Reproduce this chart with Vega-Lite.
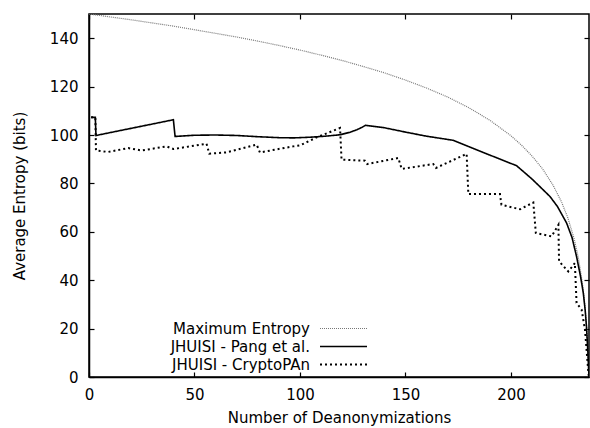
{
  "$schema": "https://vega.github.io/schema/vega-lite/v6.json",
  "width": 500,
  "height": 363,
  "autosize": {"type": "none"},
  "padding": {"left": 89, "top": 14, "right": 1, "bottom": 51},
  "background": "white",
  "config": {
    "font": "DejaVu Sans",
    "view": {"stroke": "black", "strokeWidth": 1.5},
    "axis": {
      "grid": false,
      "domainColor": "black",
      "domainWidth": 1.5,
      "tickColor": "black",
      "tickWidth": 1.2,
      "tickSize": -5,
      "labelFont": "DejaVu Sans",
      "labelFontSize": 15,
      "labelColor": "black",
      "titleFont": "DejaVu Sans",
      "titleFontSize": 15,
      "titleFontWeight": "normal",
      "titleColor": "black",
      "labelFlush": false
    }
  },
  "datasets": {
    "lines": [
      {"series": "Maximum Entropy", "x": 0, "y": 150.0},
      {"series": "Maximum Entropy", "x": 10, "y": 148.8},
      {"series": "Maximum Entropy", "x": 20, "y": 147.6},
      {"series": "Maximum Entropy", "x": 30, "y": 146.3},
      {"series": "Maximum Entropy", "x": 40, "y": 145.0},
      {"series": "Maximum Entropy", "x": 50, "y": 143.5},
      {"series": "Maximum Entropy", "x": 60, "y": 142.0},
      {"series": "Maximum Entropy", "x": 70, "y": 140.5},
      {"series": "Maximum Entropy", "x": 80, "y": 138.8},
      {"series": "Maximum Entropy", "x": 90, "y": 137.0},
      {"series": "Maximum Entropy", "x": 100, "y": 135.1},
      {"series": "Maximum Entropy", "x": 110, "y": 133.0},
      {"series": "Maximum Entropy", "x": 120, "y": 130.8},
      {"series": "Maximum Entropy", "x": 130, "y": 128.3},
      {"series": "Maximum Entropy", "x": 140, "y": 125.7},
      {"series": "Maximum Entropy", "x": 150, "y": 122.7},
      {"series": "Maximum Entropy", "x": 160, "y": 119.4},
      {"series": "Maximum Entropy", "x": 170, "y": 115.7},
      {"series": "Maximum Entropy", "x": 180, "y": 111.3},
      {"series": "Maximum Entropy", "x": 190, "y": 106.1},
      {"series": "Maximum Entropy", "x": 200, "y": 99.7},
      {"series": "Maximum Entropy", "x": 205, "y": 95.8},
      {"series": "Maximum Entropy", "x": 210, "y": 91.3},
      {"series": "Maximum Entropy", "x": 215, "y": 86.0},
      {"series": "Maximum Entropy", "x": 220, "y": 79.2},
      {"series": "Maximum Entropy", "x": 224, "y": 72.3},
      {"series": "Maximum Entropy", "x": 227, "y": 65.7},
      {"series": "Maximum Entropy", "x": 230, "y": 57.0},
      {"series": "Maximum Entropy", "x": 232, "y": 49.1},
      {"series": "Maximum Entropy", "x": 234, "y": 38.0},
      {"series": "Maximum Entropy", "x": 235, "y": 30.1},
      {"series": "Maximum Entropy", "x": 236, "y": 19.0},
      {"series": "Maximum Entropy", "x": 237, "y": 0},

      {"series": "JHUISI - Pang et al.", "x": 1, "y": 107.3},
      {"series": "JHUISI - Pang et al.", "x": 3, "y": 107.3},
      {"series": "JHUISI - Pang et al.", "x": 3.3, "y": 99.8},
      {"series": "JHUISI - Pang et al.", "x": 40, "y": 106.3},
      {"series": "JHUISI - Pang et al.", "x": 40.8, "y": 99.4},
      {"series": "JHUISI - Pang et al.", "x": 50, "y": 99.9},
      {"series": "JHUISI - Pang et al.", "x": 60, "y": 100.0},
      {"series": "JHUISI - Pang et al.", "x": 70, "y": 99.8},
      {"series": "JHUISI - Pang et al.", "x": 80, "y": 99.3},
      {"series": "JHUISI - Pang et al.", "x": 90, "y": 98.9},
      {"series": "JHUISI - Pang et al.", "x": 97, "y": 98.8},
      {"series": "JHUISI - Pang et al.", "x": 105, "y": 99.1},
      {"series": "JHUISI - Pang et al.", "x": 112, "y": 99.5},
      {"series": "JHUISI - Pang et al.", "x": 119, "y": 100.1},
      {"series": "JHUISI - Pang et al.", "x": 124, "y": 101.2},
      {"series": "JHUISI - Pang et al.", "x": 127, "y": 102.2},
      {"series": "JHUISI - Pang et al.", "x": 129.5, "y": 103.2},
      {"series": "JHUISI - Pang et al.", "x": 131, "y": 104.0},
      {"series": "JHUISI - Pang et al.", "x": 140, "y": 103.0},
      {"series": "JHUISI - Pang et al.", "x": 150, "y": 101.2},
      {"series": "JHUISI - Pang et al.", "x": 160, "y": 99.5},
      {"series": "JHUISI - Pang et al.", "x": 172.7, "y": 97.8},
      {"series": "JHUISI - Pang et al.", "x": 180, "y": 95.2},
      {"series": "JHUISI - Pang et al.", "x": 190, "y": 91.7},
      {"series": "JHUISI - Pang et al.", "x": 202.7, "y": 87.3},
      {"series": "JHUISI - Pang et al.", "x": 210, "y": 81.8},
      {"series": "JHUISI - Pang et al.", "x": 218.5, "y": 74.6},
      {"series": "JHUISI - Pang et al.", "x": 222, "y": 70.5},
      {"series": "JHUISI - Pang et al.", "x": 226.4, "y": 63.6},
      {"series": "JHUISI - Pang et al.", "x": 229, "y": 57.5},
      {"series": "JHUISI - Pang et al.", "x": 231.1, "y": 49.8},
      {"series": "JHUISI - Pang et al.", "x": 233, "y": 41.5},
      {"series": "JHUISI - Pang et al.", "x": 234.3, "y": 34.7},
      {"series": "JHUISI - Pang et al.", "x": 235.2, "y": 27.5},
      {"series": "JHUISI - Pang et al.", "x": 235.8, "y": 20.9},
      {"series": "JHUISI - Pang et al.", "x": 236.5, "y": 10.0},
      {"series": "JHUISI - Pang et al.", "x": 237, "y": 0},

      {"series": "JHUISI - CryptoPAn", "x": 1, "y": 107.3},
      {"series": "JHUISI - CryptoPAn", "x": 3, "y": 107.3},
      {"series": "JHUISI - CryptoPAn", "x": 3.3, "y": 93.6},
      {"series": "JHUISI - CryptoPAn", "x": 9.1, "y": 93.0},
      {"series": "JHUISI - CryptoPAn", "x": 18.6, "y": 94.6},
      {"series": "JHUISI - CryptoPAn", "x": 25, "y": 93.6},
      {"series": "JHUISI - CryptoPAn", "x": 36.8, "y": 95.3},
      {"series": "JHUISI - CryptoPAn", "x": 40, "y": 94.2},
      {"series": "JHUISI - CryptoPAn", "x": 55.7, "y": 96.4},
      {"series": "JHUISI - CryptoPAn", "x": 57, "y": 92.3},
      {"series": "JHUISI - CryptoPAn", "x": 65.2, "y": 92.8},
      {"series": "JHUISI - CryptoPAn", "x": 79.5, "y": 96.0},
      {"series": "JHUISI - CryptoPAn", "x": 81, "y": 92.8},
      {"series": "JHUISI - CryptoPAn", "x": 96.8, "y": 95.3},
      {"series": "JHUISI - CryptoPAn", "x": 100, "y": 95.7},
      {"series": "JHUISI - CryptoPAn", "x": 107.9, "y": 99.0},
      {"series": "JHUISI - CryptoPAn", "x": 119, "y": 102.9},
      {"series": "JHUISI - CryptoPAn", "x": 119.7, "y": 89.8},
      {"series": "JHUISI - CryptoPAn", "x": 130.8, "y": 89.4},
      {"series": "JHUISI - CryptoPAn", "x": 131.9, "y": 88.0},
      {"series": "JHUISI - CryptoPAn", "x": 146.6, "y": 90.5},
      {"series": "JHUISI - CryptoPAn", "x": 148.2, "y": 86.0},
      {"series": "JHUISI - CryptoPAn", "x": 163.2, "y": 88.0},
      {"series": "JHUISI - CryptoPAn", "x": 164.5, "y": 86.4},
      {"series": "JHUISI - CryptoPAn", "x": 179, "y": 92.2},
      {"series": "JHUISI - CryptoPAn", "x": 179.8, "y": 75.6},
      {"series": "JHUISI - CryptoPAn", "x": 194.8, "y": 75.6},
      {"series": "JHUISI - CryptoPAn", "x": 195.5, "y": 71.2},
      {"series": "JHUISI - CryptoPAn", "x": 204.3, "y": 69.3},
      {"series": "JHUISI - CryptoPAn", "x": 210.6, "y": 72.1},
      {"series": "JHUISI - CryptoPAn", "x": 211.8, "y": 59.5},
      {"series": "JHUISI - CryptoPAn", "x": 219.3, "y": 58.1},
      {"series": "JHUISI - CryptoPAn", "x": 222.5, "y": 62.9},
      {"series": "JHUISI - CryptoPAn", "x": 222.8, "y": 47.8},
      {"series": "JHUISI - CryptoPAn", "x": 227.2, "y": 43.6},
      {"series": "JHUISI - CryptoPAn", "x": 230.3, "y": 47.1},
      {"series": "JHUISI - CryptoPAn", "x": 231.1, "y": 30.6},
      {"series": "JHUISI - CryptoPAn", "x": 233.5, "y": 27.8},
      {"series": "JHUISI - CryptoPAn", "x": 235.1, "y": 19.5},
      {"series": "JHUISI - CryptoPAn", "x": 236.7, "y": 1.8},
      {"series": "JHUISI - CryptoPAn", "x": 237, "y": 0}
    ]
  },
  "data": {"name": "lines"},
  "layer": [
    {
      "mark": {"type": "line", "interpolate": "linear", "clip": true},
      "encoding": {
        "x": {
          "field": "x", "type": "quantitative",
          "scale": {"domain": [0, 237], "nice": false, "zero": false},
          "axis": {"orient": "bottom", "values": [0, 50, 100, 150, 200], "labelPadding": 15, "titlePadding": 8, "title": "Number of Deanonymizations"}
        },
        "y": {
          "field": "y", "type": "quantitative",
          "scale": {"domain": [0, 150], "nice": false},
          "axis": {"orient": "left", "values": [0, 20, 40, 60, 80, 100, 120, 140], "labelPadding": 16, "titlePadding": 22, "title": "Average Entropy (bits)"}
        },
        "color": {
          "field": "series", "type": "nominal",
          "scale": {"domain": ["Maximum Entropy", "JHUISI - Pang et al.", "JHUISI - CryptoPAn"], "range": ["#777777", "#000000", "#000000"]},
          "legend": {
            "title": null,
            "orient": "none",
            "legendX": 247,
            "legendY": 307,
            "padding": 0,
            "symbolType": "M-4.7,0H4.7",
            "symbolSize": 100,
            "labelAlign": "right",
            "labelOffset": -41,
            "labelFont": "DejaVu Sans",
            "labelFontSize": 15,
            "labelColor": "black",
            "rowPadding": 2,
            "labelLimit": 300
          }
        },
        "strokeDash": {
          "field": "series", "type": "nominal",
          "scale": {"domain": ["Maximum Entropy", "JHUISI - Pang et al.", "JHUISI - CryptoPAn"], "range": [[1, 1], [1, 0], [2, 3]]}
        },
        "strokeWidth": {
          "field": "series", "type": "nominal",
          "scale": {"domain": ["Maximum Entropy", "JHUISI - Pang et al.", "JHUISI - CryptoPAn"], "range": [1.2, 2, 2]}
        }
      }
    },
    {
      "mark": {"type": "line", "opacity": 0},
      "encoding": {
        "x": {
          "field": "x", "type": "quantitative",
          "scale": {"domain": [0, 237], "nice": false, "zero": false},
          "axis": {"orient": "top", "values": [0, 50, 100, 150, 200], "labels": false, "title": null, "domain": false}
        },
        "y": {
          "field": "y", "type": "quantitative",
          "scale": {"domain": [0, 150], "nice": false},
          "axis": {"orient": "right", "values": [0, 20, 40, 60, 80, 100, 120, 140], "labels": false, "title": null, "domain": false}
        }
      }
    }
  ],
  "resolve": {"axis": {"x": "independent", "y": "independent"}}
}
